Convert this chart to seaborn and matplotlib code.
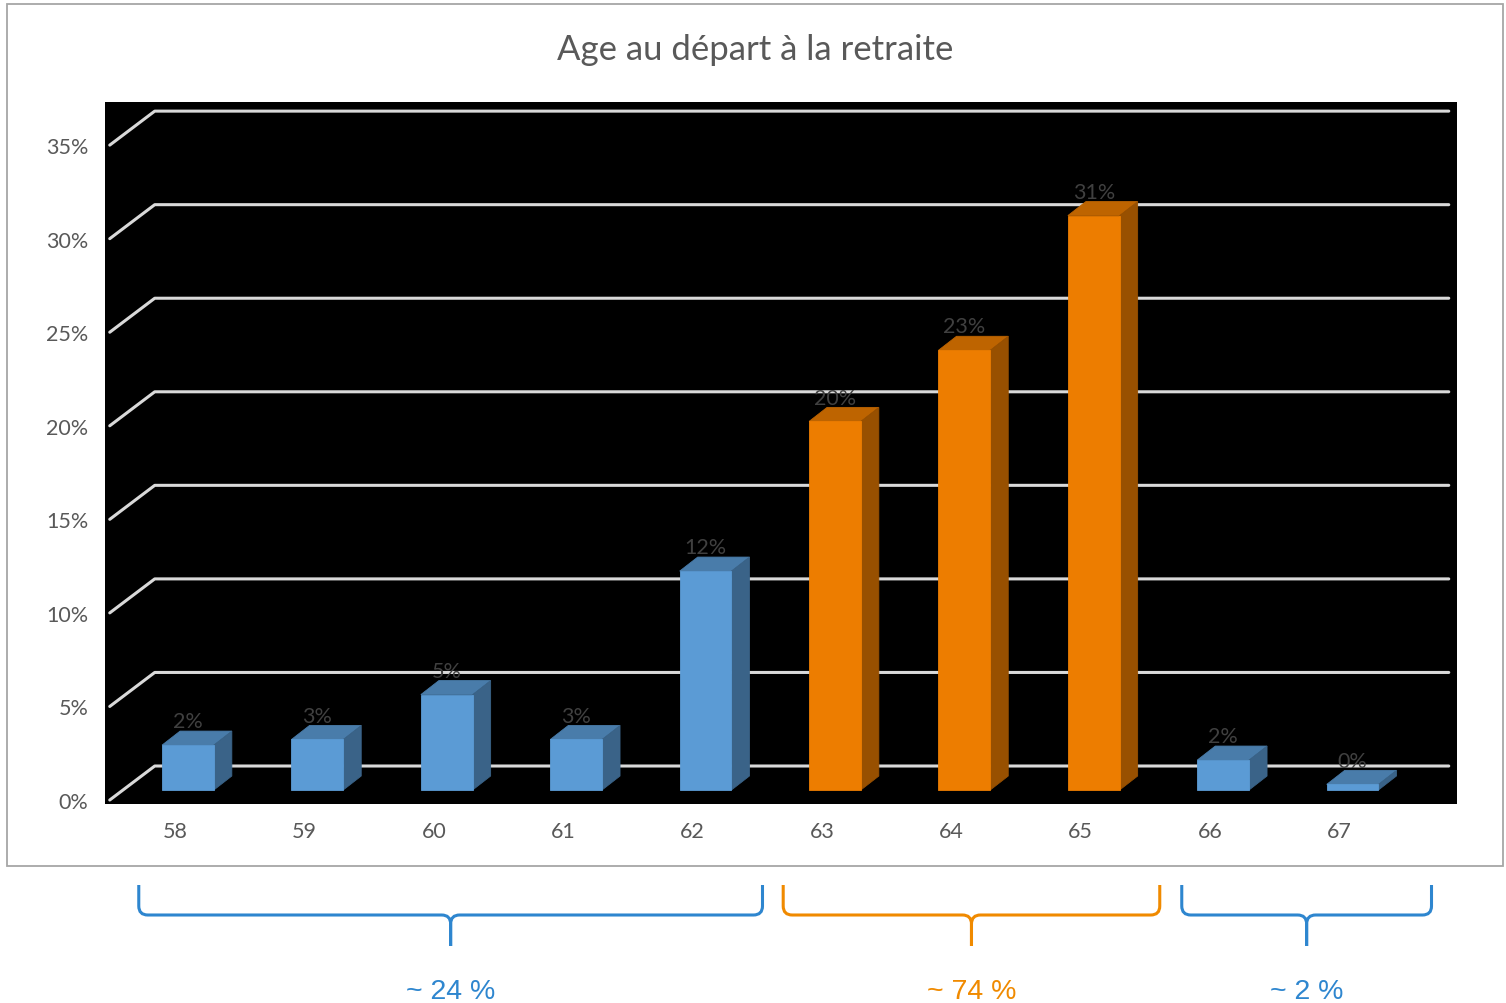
import matplotlib
matplotlib.use("Agg")
import matplotlib.pyplot as plt
import seaborn as sns
from matplotlib.patches import Polygon, Rectangle, PathPatch
from matplotlib.path import Path
from matplotlib.transforms import ScaledTranslation, IdentityTransform
import matplotlib.colors as mcolors

# data
ages = ["58", "59", "60", "61", "62", "63", "64", "65", "66", "67"]
shares = [2.4, 2.7, 5.1, 2.7, 11.7, 19.7, 23.5, 30.7, 1.6, 0.3]
bar_labels = ["2%", "3%", "5%", "3%", "12%", "20%", "23%", "31%", "2%", "0%"]
groups = ["avant"] * 5 + ["legal"] * 3 + ["apres"] * 2
group_names = ["~ 24 %", "~ 74 %", "~ 2 %"]
# brace extents, in category units
group_spans = [(-0.38, 4.44), (4.60, 7.51), (7.68, 9.61)]
yticks = [0, 5, 10, 15, 20, 25, 30, 35]

BLUE = "#5B9BD5"
ORANGE = "#ED7D00"
palette = {"avant": BLUE, "legal": ORANGE, "apres": BLUE}
brace_colors = ["#2E86CF", "#F08A00", "#2E86CF"]

sns.set_theme(style="white")
plt.rcParams["font.family"] = ["Lato", "DejaVu Sans"]

W, H = 1506, 1004
fig = plt.figure(figsize=(W / 100, H / 100), dpi=100)
ax = fig.add_axes([105 / W, 1 - 805 / H, (1457 - 105) / W, (805 - 103) / H])

sns.barplot(x=ages, y=shares, hue=groups, palette=palette, width=0.4,
            saturation=1, linewidth=0, legend=False, ax=ax, zorder=2)
ax.set_facecolor("black")
for s in ax.spines.values():
    s.set_visible(False)
ax.set_xlim(-0.641, 9.807)
ax.set_ylim(-0.748, 36.77)
ax.set_xlabel("")
ax.set_ylabel("")

# pixel -> data unit sizes
p0 = ax.transData.transform((0, 0))
p1 = ax.transData.transform((1, 1))
sx, sy = p1[0] - p0[0], p1[1] - p0[1]

# pseudo 3D: floor depth offsets (pixels)
front = (-13.5 / sx, -10 / sy)
back = (31.5 / sx, 24 / sy)
depth = (18 / sx, 14 / sy)

# perspective gridlines
for v in yticks:
    xs = [-0.5 + front[0], -0.5 + back[0], 9.5 + back[0]]
    ys = [v + front[1], v + back[1], v + back[1]]
    ax.plot(xs, ys, color="#d9d9d9", lw=2.2, zorder=0.5, solid_capstyle="round")

# top and side faces of the bars
for p in list(ax.patches):
    h = p.get_height()
    if h != h:
        continue
    x0, w = p.get_x(), p.get_width()
    fc = mcolors.to_rgb(p.get_facecolor())
    p.set_edgecolor(fc)
    p.set_linewidth(0.6)
    top_c = tuple(c * 0.80 for c in fc)
    side_c = tuple(c * 0.64 for c in fc)
    top = [(x0, h), (x0 + w, h), (x0 + w + depth[0], h + depth[1]), (x0 + depth[0], h + depth[1])]
    side = [(x0 + w, 0), (x0 + w, h), (x0 + w + depth[0], h + depth[1]), (x0 + w + depth[0], depth[1])]
    ax.add_patch(Polygon(top, closed=True, fc=top_c, ec=top_c, lw=0.6, zorder=1.9))
    ax.add_patch(Polygon(side, closed=True, fc=side_c, ec=side_c, lw=0.6, zorder=1.9))

# data labels
for i, (v, lab) in enumerate(zip(shares, bar_labels)):
    ax.annotate(lab, (i, v), xytext=(0, 10), textcoords="offset points",
                ha="center", va="bottom", color="#404040", fontsize=15.5, zorder=3)

# ticks
ax.set_yticks(yticks)
ax.set_yticklabels([f"{v}%" for v in yticks])
ax.tick_params(axis="both", length=0, labelsize=15.5, labelcolor="#595959")
ax.tick_params(axis="y", pad=12)
ax.tick_params(axis="x", pad=12)
for lbl in ax.get_yticklabels():
    lbl.set_transform(lbl.get_transform() + ScaledTranslation(0, -0.10, fig.dpi_scale_trans))
for lbl in ax.get_xticklabels():
    lbl.set_transform(lbl.get_transform() + ScaledTranslation(-0.13, 0, fig.dpi_scale_trans))

# title and chart frame
fig.text(755 / W, 1 - 50 / H, "Age au départ à la retraite", ha="center", va="center",
         color="#595959", fontsize=25)
fig.add_artist(Rectangle((7 / W, 1 - 867 / H), 1496 / W, 862 / H, transform=fig.transFigure,
                         fill=False, ec="#a6a6a6", lw=1.3))

# braces under the chart
y_top, y_mid, y_bot = H - 886, H - 916, H - 947
r = 9
for (a, b), name, col in zip(group_spans, group_names, brace_colors):
    xa = ax.transData.transform((a, 0))[0]
    xb = ax.transData.transform((b, 0))[0]
    xm = (xa + xb) / 2
    for x_end, sgn in ((xa, 1), (xb, -1)):
        verts = [(x_end, y_top), (x_end, y_mid + r), (x_end, y_mid), (x_end + sgn * r, y_mid),
                 (xm - sgn * r, y_mid), (xm, y_mid), (xm, y_mid - r), (xm, y_bot)]
        codes = [Path.MOVETO, Path.LINETO, Path.CURVE3, Path.CURVE3,
                 Path.LINETO, Path.CURVE3, Path.CURVE3, Path.LINETO]
        fig.add_artist(PathPatch(Path(verts, codes), fill=False, ec=col, lw=2.2,
                                 transform=IdentityTransform()))
    fig.text(xm / W, 5 / H, name, ha="center", va="baseline", color=col,
             fontsize=20.5, family=["Liberation Sans", "DejaVu Sans"])

fig.savefig("out.png", dpi=100)
